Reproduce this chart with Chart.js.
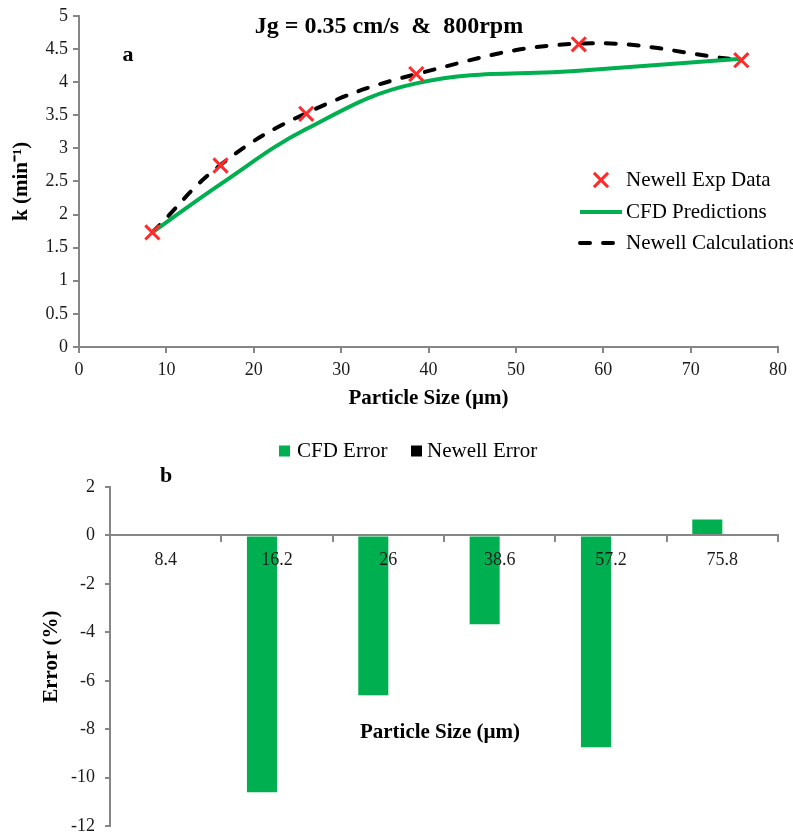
<!DOCTYPE html>
<html>
<head>
<meta charset="utf-8">
<title>Flotation rate constant vs particle size</title>
<script src="https://cdn.jsdelivr.net/npm/chart.js@4.4.1/dist/chart.umd.min.js"></script>
<style>
  html, body { margin: 0; padding: 0; background: #fff; overflow: hidden; }
  #wrap { position: relative; width: 793px; height: 836px; }
  canvas { position: absolute; left: 0; }
  #kChart { top: 0; }
  #errChart { top: 415px; }
</style>
</head>
<body>
<div id="wrap">
  <canvas id="kChart" width="793" height="415"></canvas>
  <canvas id="errChart" width="793" height="432"></canvas>
</div>
<script>
// panel a: rate constant k (1/min) against particle size (um)
const particleSize = [8.4, 16.2, 26, 38.6, 57.2, 75.8];
const newellExp = [1.73, 2.74, 3.52, 4.12, 4.57, 4.33];
const cfdPred = [1.73, 2.46, 3.29, 3.98, 4.17, 4.35];
const newellCalc = [1.73, 2.75, 3.53, 4.12, 4.58, 4.33];

// panel b: relative error (%) per size class
const sizeLabels = ['8.4', '16.2', '26', '38.6', '57.2', '75.8'];
const cfdError = [0, -10.6, -6.6, -3.66, -8.74, 0.66];
const newellError = [0, 0, 0, 0, 0, 0];

const GREEN = '#00b050';
const RED = '#ff2a2a';
const AXIS = '#868686';
const TEXT = '#1a1a1a';
const SERIF = '"Liberation Serif", "Times New Roman", serif';

Chart.defaults.font.family = SERIF;
Chart.defaults.color = TEXT;

const toXY = (xs, ys) => xs.map((x, i) => ({ x: x, y: ys[i] }));
// plain numbers on the axes: "1", "1.5", not "1.0"
const plain = v => String(v);

// free text and hand-placed legend entries, drawn on top of the chart
const overlay = {
  id: 'overlay',
  afterDraw(chart, args, opts) {
    const ctx = chart.ctx;
    ctx.save();
    ctx.textBaseline = 'middle';
    (opts.texts || []).forEach(t => {
      ctx.font = t.font;
      ctx.fillStyle = t.color || '#000';
      ctx.textAlign = t.align || 'left';
      ctx.fillText(t.text, t.x, t.y);
    });
    (opts.legend || []).forEach(item => {
      const ds = chart.data.datasets[item.dataset];
      if (item.kind === 'marker') {
        ctx.strokeStyle = ds.borderColor;
        ctx.lineWidth = ds.borderWidth;
        Chart.helpers.drawPoint(ctx, { pointStyle: ds.pointStyle, radius: ds.pointRadius, rotation: 0, borderWidth: ds.borderWidth }, item.x + item.w / 2, item.y);
      } else if (item.kind === 'line') {
        ctx.strokeStyle = ds.borderColor;
        ctx.lineWidth = ds.borderWidth;
        ctx.lineCap = ds.borderCapStyle || 'butt';
        ctx.setLineDash(ds.borderDash || []);
        ctx.beginPath();
        ctx.moveTo(item.x, item.y);
        ctx.lineTo(item.x + item.w, item.y);
        ctx.stroke();
        ctx.setLineDash([]);
      } else {
        ctx.fillStyle = ds.backgroundColor;
        ctx.fillRect(item.x, item.y - item.w / 2, item.w, item.w);
      }
      ctx.font = item.font;
      ctx.fillStyle = '#000';
      ctx.textAlign = 'left';
      ctx.fillText(ds.label, item.tx, item.y);
    });
    ctx.restore();
  }
};

const axisGrid = len => ({ drawOnChartArea: false, drawTicks: true, tickLength: len, color: AXIS, lineWidth: 2 });
const axisBorder = { color: AXIS, width: 2 };
const tickFont = { size: 18 };
const titleFont = { size: 21, weight: 'bold' };

new Chart(document.getElementById('kChart'), {
  type: 'scatter',
  data: {
    datasets: [
      {
        label: 'Newell Exp Data',
        data: toXY(particleSize, newellExp),
        showLine: false,
        pointStyle: 'crossRot',
        pointRadius: 10,
        borderColor: RED,
        backgroundColor: RED,
        borderWidth: 3
      },
      {
        label: 'CFD Predictions',
        data: toXY(particleSize, cfdPred),
        showLine: true,
        borderColor: GREEN,
        borderWidth: 4,
        pointRadius: 0,
        tension: 0.4
      },
      {
        label: 'Newell Calculations',
        data: toXY(particleSize, newellCalc),
        showLine: true,
        borderColor: '#000',
        borderWidth: 4,
        borderDash: [10, 13],
        borderCapStyle: 'round',
        pointRadius: 0,
        tension: 0.4
      }
    ]
  },
  options: {
    responsive: false,
    animation: false,
    layout: { padding: { left: 0, right: 10, top: 15, bottom: 0 } },
    plugins: {
      legend: { display: false },
      tooltip: { enabled: false },
      overlay: {
        texts: [
          { text: 'Jg = 0.35 cm/s  &  800rpm', x: 389, y: 27, align: 'center', font: 'bold 24px ' + SERIF },
          { text: 'a', x: 128, y: 55, align: 'center', font: 'bold 22px ' + SERIF }
        ],
        legend: [
          { dataset: 0, kind: 'marker', x: 580, w: 42, y: 180, tx: 626, font: '21px ' + SERIF },
          { dataset: 1, kind: 'line', x: 580, w: 42, y: 212, tx: 626, font: '21px ' + SERIF },
          { dataset: 2, kind: 'line', x: 580, w: 42, y: 243, tx: 626, font: '21px ' + SERIF }
        ]
      }
    },
    scales: {
      x: {
        type: 'linear',
        min: 0,
        max: 80,
        ticks: { stepSize: 10, font: tickFont, padding: 6, color: TEXT, callback: plain },
        grid: axisGrid(6),
        border: axisBorder,
        title: { display: true, text: 'Particle Size (µm)', font: titleFont, color: '#000', padding: { top: 0, bottom: 4 } },
        afterFit: s => { s.height = 68; }
      },
      y: {
        min: 0,
        max: 5,
        ticks: { stepSize: 0.5, font: tickFont, padding: 5, color: TEXT, callback: plain },
        grid: axisGrid(6),
        border: axisBorder,
        title: { display: true, text: 'k (min⁻¹)', font: titleFont, color: '#000', padding: { top: 9, bottom: 0 } },
        afterFit: s => { s.width = 79; }
      }
    }
  },
  plugins: [overlay]
});

new Chart(document.getElementById('errChart'), {
  type: 'bar',
  data: {
    labels: sizeLabels,
    datasets: [
      { label: 'CFD Error', data: cfdError, backgroundColor: GREEN, categoryPercentage: 0.54, barPercentage: 1 },
      { label: 'Newell Error', data: newellError, backgroundColor: '#000', categoryPercentage: 0.54, barPercentage: 1 }
    ]
  },
  options: {
    responsive: false,
    animation: false,
    layout: { padding: { left: 0, right: 15, top: 72, bottom: 18 } },
    plugins: {
      legend: { display: false },
      tooltip: { enabled: false },
      overlay: {
        texts: [
          { text: 'b', x: 166, y: 61, align: 'center', font: 'bold 22px ' + SERIF },
          { text: 'Particle Size (µm)', x: 440, y: 318, align: 'center', font: 'bold 21px ' + SERIF }
        ],
        legend: [
          { dataset: 0, kind: 'box', x: 279, w: 11, y: 36, tx: 297, font: '21px ' + SERIF },
          { dataset: 1, kind: 'box', x: 411, w: 11, y: 36, tx: 427, font: '21px ' + SERIF }
        ]
      }
    },
    scales: {
      x: {
        position: { y: 0 },
        // category labels sit on top of the bars
        ticks: { font: tickFont, padding: 8, color: TEXT, z: 1 },
        grid: Object.assign(axisGrid(6), { offset: true, z: 1 }),
        border: Object.assign({ z: 1 }, axisBorder)
      },
      y: {
        min: -12,
        max: 2,
        ticks: { stepSize: 2, font: tickFont, padding: 10, color: TEXT, callback: plain },
        grid: axisGrid(5),
        border: axisBorder,
        title: { display: true, text: 'Error (%)', font: titleFont, color: '#000', padding: { top: 39, bottom: 0 } },
        afterFit: s => { s.width = 110; }
      }
    }
  },
  plugins: [overlay]
});
</script>
</body>
</html>
